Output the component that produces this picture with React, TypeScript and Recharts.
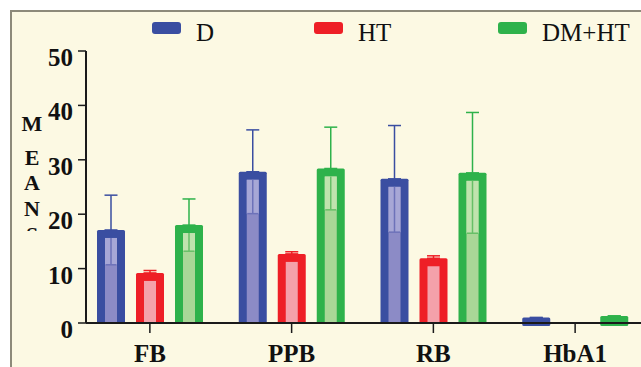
import React from 'react';
import { BarChart, Bar, XAxis, YAxis, ErrorBar } from 'recharts';

// ---- data ----
const categories = ['FB', 'PPB', 'RB', 'HbA1'];
const seriesNames = ['D', 'HT', 'DM+HT'];
const dMeans = [17.1, 27.8, 26.5, 1.0];
const dSD = [6.4, 7.7, 9.8, 0];
const htMeans = [9.2, 12.7, 11.9, 0];
const htSD = [0.45, 0.4, 0.45, 0];
const dmhtMeans = [18.0, 28.4, 27.6, 1.3];
const dmhtSD = [4.8, 7.6, 11.1, 0];
const yTicks = [0, 10, 20, 30, 40, 50];
const yTitleLetters = ['M', 'E', 'A', 'N', 'S'];

const tableData = categories.map((c, i) => ({
  name: c,
  d: dMeans[i],
  dSd: dSD[i],
  dUp: [0, dSD[i]],
  ht: htMeans[i],
  htSd: htSD[i],
  htUp: [0, htSD[i]],
  dmht: dmhtMeans[i],
  dmhtSd: dmhtSD[i],
  dmhtUp: [0, dmhtSD[i]],
}));

// ---- styles ----
const SERIF = '"Liberation Serif", "Times New Roman", serif';
const BG = '#FCF9E3';
const styles = {
  d: { dark: '#3A4EA1', light: '#8C8BC6', pale: '#A7A7D6', mid: '#6D72B9' },
  ht: { dark: '#EE1F26', light: '#F4A1AA', pale: '#F7B8BE', mid: '#F0707A' },
  dmht: { dark: '#2EB24B', light: '#A9D797', pale: '#C0E3AE', mid: '#67BF67' },
};
const seriesKeys: Array<'d' | 'ht' | 'dmht'> = ['d', 'ht', 'dmht'];
const legendLeft = [152, 314, 498];

const makeShape = (key: 'd' | 'ht' | 'dmht') => (props: any) => {
  const { x, y, width, height, payload } = props;
  const st = styles[key];
  if (!height || height <= 0) return <g />;
  const inset = 8;
  const small = height < 2 * inset;
  const mean = payload[key];
  const sd = payload[key + 'Sd'];
  const ppu = mean ? height / mean : 0;
  const capY = y + sd * ppu;
  const cx = x + width / 2;
  const innerTop = y + inset;
  return (
    <g>
      <rect x={x} y={y} width={width} height={small ? height + 3 : height} fill={st.dark} rx={1.5} />
      {!small && (
        <rect x={x + inset} y={innerTop} width={width - 2 * inset} height={height - inset} fill={st.light} />
      )}
      {!small && capY > innerTop + 2 && (
        <g>
          <rect x={x + inset} y={innerTop} width={width - 2 * inset} height={capY - innerTop} fill={st.pale} />
          <line x1={cx} y1={innerTop} x2={cx} y2={capY} stroke={st.mid} strokeWidth={1.5} />
          <line x1={cx - 5.5} y1={capY} x2={cx + 5.5} y2={capY} stroke={st.mid} strokeWidth={1.5} />
        </g>
      )}
    </g>
  );
};

const YTick = (props: any) => {
  const { x, y, payload } = props;
  return (
    <text x={x} y={y} dy={15} textAnchor="end" fontFamily={SERIF} fontWeight="bold" fontSize={25} fill="#111">
      {payload.value}
    </text>
  );
};

const XTick = (props: any) => {
  const { x, y, payload } = props;
  return (
    <text x={x} y={y} dy={26.5} textAnchor="middle" fontFamily={SERIF} fontWeight="bold" fontSize={25} fill="#111">
      {payload.value}
    </text>
  );
};

const titleBaselines = [80, 114, 139, 165, 191];

const YTitle = (props: any) => {
  const vb = props.viewBox || { x: 0, y: 51 };
  return (
    <g>
      <defs>
        <clipPath id="ytitle-clip">
          <rect x={0} y={0} width={80} height={vb.y + 180} />
        </clipPath>
      </defs>
      <g clipPath="url(#ytitle-clip)">
        {yTitleLetters.map((ch, i) => (
          <text
            key={ch + i}
            x={vb.x + 32}
            y={vb.y + titleBaselines[i]}
            textAnchor="middle"
            fontFamily={SERIF}
            fontWeight="bold"
            fontSize={22}
            fill="#111"
          >
            {ch}
          </text>
        ))}
      </g>
    </g>
  );
};

export default function App() {
  return (
    <div
      style={{
        position: 'fixed',
        left: 0,
        top: 0,
        width: 641,
        height: 367,
        overflow: 'hidden',
        background: '#ffffff',
      }}
    >
      <div
        style={{
          position: 'absolute',
          left: 10,
          top: 10,
          width: 700,
          height: 400,
          border: '2px solid #8D8A7A',
          background: BG,
        }}
      />
      {seriesKeys.map((k, i) => (
        <React.Fragment key={k}>
          <div
            style={{
              position: 'absolute',
              left: legendLeft[i],
              top: 21.5,
              width: 29,
              height: 12,
              borderRadius: 3,
              background: styles[k].dark,
            }}
          />
          <div
            style={{
              position: 'absolute',
              left: legendLeft[i] + 44,
              top: 20,
              fontFamily: SERIF,
              fontSize: 25,
              lineHeight: '25px',
              color: '#111',
              whiteSpace: 'nowrap',
            }}
          >
            {seriesNames[i]}
          </div>
        </React.Fragment>
      ))}
      <div style={{ position: 'absolute', left: 0, top: 0 }}>
        <BarChart
          width={641}
          height={367}
          data={tableData}
          margin={{ top: 51, right: 0, bottom: 0, left: 0 }}
          barCategoryGap={18}
          barGap={11}
        >
          <XAxis
            dataKey="name"
            height={44}
            padding={{ left: -7, right: -5 }}
            tickSize={10}
            axisLine={{ stroke: '#1a1a1a', strokeWidth: 2 }}
            tickLine={{ stroke: '#1a1a1a', strokeWidth: 1.5 }}
            tick={<XTick />}
            interval={0}
          />
          <YAxis
            width={86}
            domain={[0, 50]}
            ticks={yTicks}
            interval={0}
            tickSize={8}
            tickMargin={5}
            axisLine={{ stroke: '#1a1a1a', strokeWidth: 2 }}
            tickLine={{ stroke: '#1a1a1a', strokeWidth: 1.5 }}
            tick={<YTick />}
            label={{ content: <YTitle /> }}
          />
          {seriesKeys.map((k, i) => (
            <Bar
              key={k}
              dataKey={k}
              name={seriesNames[i]}
              fill={styles[k].dark}
              shape={makeShape(k)}
              isAnimationActive={false}
            >
              <ErrorBar
                dataKey={k + 'Up'}
                width={6.5}
                stroke={styles[k].dark}
                strokeWidth={1.5}
                isAnimationActive={false}
              />
            </Bar>
          ))}
        </BarChart>
      </div>
    </div>
  );
}
